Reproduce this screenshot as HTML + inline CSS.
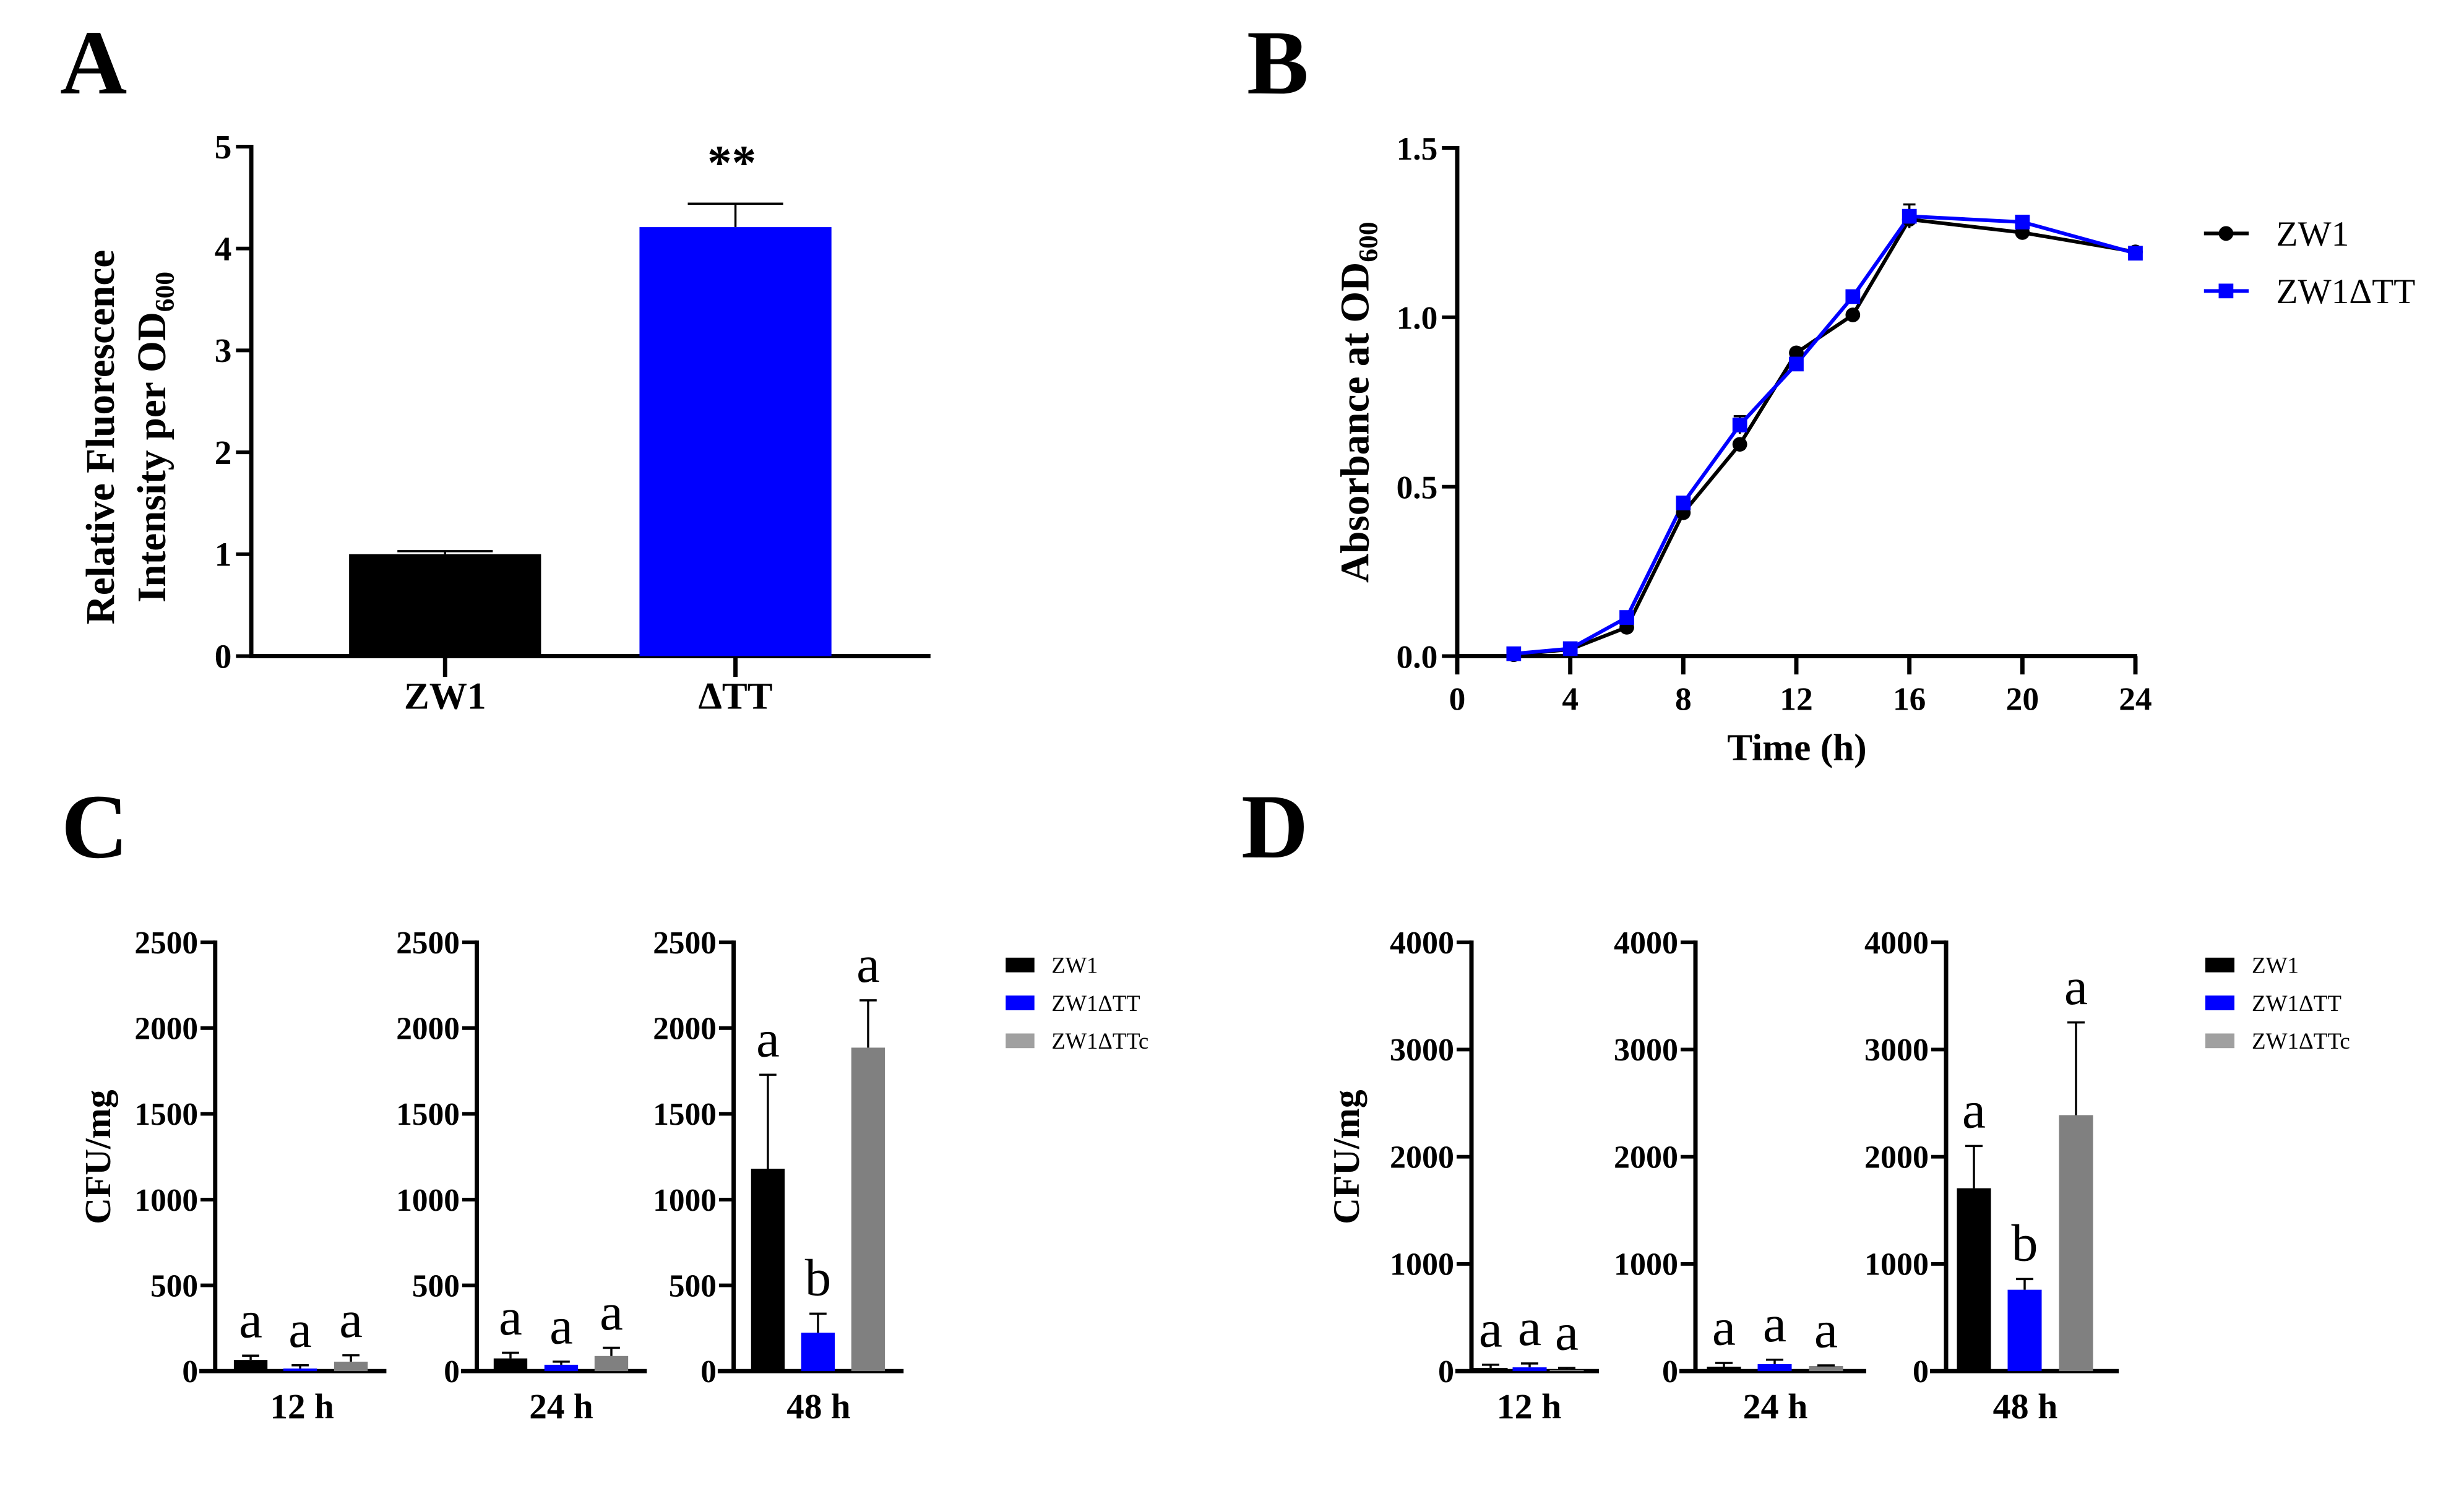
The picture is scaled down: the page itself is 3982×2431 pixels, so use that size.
<!DOCTYPE html>
<html><head><meta charset="utf-8"><style>
html,body{margin:0;padding:0;background:#fff;}
svg{display:block;font-family:"Liberation Serif",serif;}
</style></head><body>
<svg id="fig" xmlns="http://www.w3.org/2000/svg" width="3982" height="2431" viewBox="0 0 3982 2431">
<rect x="0" y="0" width="3982" height="2431" fill="#fff"/>
<g transform="matrix(1,0,0,0.9886,0,2.7)">
<text x="97" y="150" font-size="150" font-weight="bold">A</text>
<text x="2015" y="150" font-size="150" font-weight="bold">B</text>
<text x="99" y="1399" font-size="150" font-weight="bold">C</text>
<text x="2006" y="1399" font-size="150" font-weight="bold">D</text>
<g transform="scale(0.988,1)"><g id="gA"></g></g>
<g transform="matrix(0.98917,0,0,1,25.5,0)"><g id="gB"></g></g>
<g transform="scale(0.988,1)"><g id="gC"></g></g>
<g transform="translate(-16,0)"><g id="gD"></g></g>
</g>
</svg>
<script>
// Panel A data
const aCategories = ["ZW1", "ΔTT"];
const aValues = [1.0, 4.21];
const aErrors = [0.03, 0.23];
const aTicks = [0, 1, 2, 3, 4, 5];
// Panel B data
const bTimes = [2, 4, 6, 8, 10, 12, 14, 16, 20, 24];
const bZW1 = [0.004, 0.02, 0.085, 0.423, 0.625, 0.895, 1.007, 1.289, 1.25, 1.193];
const bZW1dTT = [0.007, 0.022, 0.114, 0.452, 0.682, 0.862, 1.061, 1.298, 1.281, 1.189];
const bZW1dTTerr = [0.005, 0.005, 0.01, 0.01, 0.026, 0.01, 0.01, 0.035, 0.01, 0.005];
const bXTicks = [0, 4, 8, 12, 16, 20, 24];
const bYTicks = ["0.0", "0.5", "1.0", "1.5"];
// Panel C data
const cTimes = ["12 h", "24 h", "48 h"];
const cZW1 = [65, 74, 1180];
const cZW1err = [25, 33, 548];
const cDTT = [15, 37, 224];
const cDTTerr = [19, 18, 111];
const cDTTc = [55, 88, 1886];
const cDTTcErr = [37, 48, 276];
const cLetters = [["a","a","a"],["a","a","a"],["a","b","a"]];
const cTicks = [0, 500, 1000, 1500, 2000, 2500];
// Panel D data
const dZW1 = [29, 41, 1706];
const dZW1err = [30, 35, 394];
const dDTT = [35, 65, 759];
const dDTTerr = [36, 41, 100];
const dDTTc = [12, 47, 2388];
const dDTTcErr = [17, 6, 865];
const dLetters = [["a","a","a"],["a","a","a"],["a","b","a"]];
const dTicks = [0, 1000, 2000, 3000, 4000];
const seriesNames = ["ZW1", "ZW1ΔTT", "ZW1ΔTTc"];

const NS = "http://www.w3.org/2000/svg";
function mk(parent, tag, attrs, text) {
  const e = document.createElementNS(NS, tag);
  for (const k in attrs) e.setAttribute(k, attrs[k]);
  if (text !== undefined) e.textContent = text;
  parent.appendChild(e);
  return e;
}
function line(p, x1, y1, x2, y2, w, c) {
  return mk(p, "line", {x1, y1, x2, y2, stroke: c || "#000", "stroke-width": w});
}

// ---------- Panel A ----------
(function () {
  const g = document.getElementById("gA");
  const x0 = 411, xEnd = 1522, y0 = 1070, yTop = 237;
  const yS = v => y0 - (v / 5) * (y0 - yTop);
  const centers = [728, 1203];
  const bw = 314;
  let e = line(g, x0, yTop - 3, x0, y0 + 3, 7);
  
  
  e = line(g, x0 - 3, y0, xEnd, y0, 7);
  
  
  aTicks.forEach(t => {
    line(g, x0 - 25, yS(t), x0, yS(t), 6);
    const tx = mk(g, "text", {x: x0 - 32, y: yS(t) + 19, "font-size": 56, "font-weight": "bold", "text-anchor": "end"}, String(t));
    
    
  });
  aCategories.forEach((c, i) => {
    const cx = centers[i];
    const col = i === 0 ? "#000" : "#0000ff";
    const top = yS(aValues[i]);
    const r = mk(g, "rect", {x: cx - bw / 2, y: top, width: bw, height: y0 - top, fill: col});
    
    
    const et = yS(aValues[i] + aErrors[i]);
    line(g, cx, top, cx, et, 3.5);
    line(g, cx - 78, et, cx + 78, et, 3.5);
    line(g, cx, y0, cx, y0 + 34, 7);
    const t = mk(g, "text", {x: cx, y: 1156, "font-size": 62, "font-weight": "bold", "text-anchor": "middle"}, c);
    
    
  });
  const st = mk(g, "text", {x: 1197, y: 290, "font-size": 80, "font-weight": "bold", "text-anchor": "middle"}, "**");
  
  
  const t1 = mk(g, "text", {x: 0, y: 0, "font-size": 66, "font-weight": "bold", "text-anchor": "middle", transform: "translate(186,712) rotate(-90)"}, "Relative Fluorescence");
  
  
  const t2 = mk(g, "text", {x: 0, y: 0, "font-size": 66, "font-weight": "bold", "text-anchor": "middle", transform: "translate(270,712) rotate(-90)"});
  
  
  mk(t2, "tspan", {}, "Intensity per OD");
  mk(t2, "tspan", {"font-size": 44, dy: 14}, "600");
})();

// ---------- Panel B ----------
(function () {
  const g = document.getElementById("gB");
  const x0 = 2355, x1 = 3463, y0 = 1070, yTop = 239;
  const xS = t => x0 + (t / 24) * (x1 - x0);
  const yS = v => y0 - (v / 1.5) * (y0 - yTop);
  let e = line(g, x0, yTop - 3, x0, y0 + 3, 7);
  
  
  e = line(g, x0 - 3, y0, x1 + 3, y0, 7);
  
  
  bYTicks.forEach(t => {
    const v = parseFloat(t);
    line(g, x0 - 25, yS(v), x0, yS(v), 6);
    const tx = mk(g, "text", {x: x0 - 32, y: yS(v) + 19, "font-size": 54, "font-weight": "bold", "text-anchor": "end"}, t);
    
    
  });
  bXTicks.forEach(t => {
    line(g, xS(t), y0, xS(t), y0 + 30, 7);
    const tx = mk(g, "text", {x: xS(t), y: 1158, "font-size": 54, "font-weight": "bold", "text-anchor": "middle"}, String(t));
    
    
  });
  const tt = mk(g, "text", {x: 2910, y: 1240, "font-size": 62, "font-weight": "bold", "text-anchor": "middle"}, "Time (h)");
  
  
  const yt = mk(g, "text", {x: 0, y: 0, "font-size": 66, "font-weight": "bold", "text-anchor": "middle", transform: "translate(2210,655) rotate(-90)"});
  
  
  mk(yt, "tspan", {}, "Absorbance at OD");
  mk(yt, "tspan", {"font-size": 44, dy: 14}, "600");
  bTimes.forEach((t, i) => {
    const v = bZW1dTT[i], er = bZW1dTTerr[i];
    line(g, xS(t), yS(v - er), xS(t), yS(v + er), 3.5);
    line(g, xS(t) - 10, yS(v + er), xS(t) + 10, yS(v + er), 3.5);
  });
  const p1 = mk(g, "polyline", {points: bTimes.map((t, i) => xS(t) + "," + yS(bZW1[i])).join(" "), fill: "none", stroke: "#000", "stroke-width": 6});
  
  
  const p2 = mk(g, "polyline", {points: bTimes.map((t, i) => xS(t) + "," + yS(bZW1dTT[i])).join(" "), fill: "none", stroke: "#0000ff", "stroke-width": 6});
  
  
  bTimes.forEach((t, i) => {
    const c = mk(g, "circle", {cx: xS(t), cy: yS(bZW1[i]), r: 12, fill: "#000"});
    
    
  });
  bTimes.forEach((t, i) => {
    const r = mk(g, "rect", {x: xS(t) - 12, y: yS(bZW1dTT[i]) - 12, width: 24, height: 24, fill: "#0000ff"});
    
    
  });
  line(g, 3575, 379, 3648, 379, 6);
  mk(g, "circle", {cx: 3611, cy: 379, r: 12, fill: "#000"});
  const l1 = mk(g, "text", {x: 3693, y: 399, "font-size": 58}, "ZW1");
  
  
  line(g, 3575, 473, 3648, 473, 6, "#0000ff");
  mk(g, "rect", {x: 3599, y: 461, width: 24, height: 24, fill: "#0000ff"});
  const l2 = mk(g, "text", {x: 3693, y: 493, "font-size": 58}, "ZW1ΔTT");
  
  
})();

// ---------- Panels C & D ----------
function cfuPanel(gid, prefix, axesX, axisEnds, groupsX, ymax, ticks, vals, errs, letters, labelX, titleX, legendX) {
  const g = document.getElementById(gid);
  const y0 = 2239, yTop = 1538;
  const yS = v => y0 - (v / ymax) * (y0 - yTop);
  const cols = ["#000", "#0000ff", "#808080"];
  const legCols = ["#000", "#0000ff", "#a0a0a0"];
  const bw = 55;
  cTimes.forEach((lab, k) => {
    const ax = axesX[k];
    let e = line(g, ax, yTop - 3, ax, y0 + 3, 7);
    
    
    e = line(g, ax - 26, y0, axisEnds[k], y0, 7);
    
    
    ticks.forEach(t => {
      line(g, ax - 24, yS(t), ax, yS(t), 6);
      const tx = mk(g, "text", {x: ax - 28, y: yS(t) + 18, "font-size": 52, "font-weight": "bold", "text-anchor": "end"}, String(t));
      
      
    });
    for (let s = 0; s < 3; s++) {
      const cx = groupsX[k][s];
      const v = vals[s][k], er = errs[s][k];
      const top = yS(v);
      const r = mk(g, "rect", {x: cx - bw / 2, y: top, width: bw, height: y0 - top, fill: cols[s]});
      
      
      const et = yS(v + er);
      line(g, cx, top, cx, et, 3.5);
      line(g, cx - 14, et, cx + 14, et, 3.5);
      const lt = mk(g, "text", {x: cx, y: et - 30, "font-size": 86, "text-anchor": "middle"}, letters[k][s]);
      
      
    }
    const tl = mk(g, "text", {x: labelX[k], y: 2316, "font-size": 58, "font-weight": "bold", "text-anchor": "middle"}, lab);
    
    
  });
  const yt = mk(g, "text", {x: 0, y: 0, "font-size": 60, "font-weight": "bold", "text-anchor": "middle", transform: "translate(" + titleX + ",1889) rotate(-90)"}, "CFU/mg");
  
  
  const rows = [1575, 1637, 1699];
  seriesNames.forEach((n, s) => {
    mk(g, "rect", {x: legendX, y: rows[s] - 12, width: 47, height: 24, fill: legCols[s]});
    const t = mk(g, "text", {x: legendX + 75, y: rows[s] + 13, "font-size": 37}, n);
    
    
  });
}
cfuPanel("gC", "c", [352, 780, 1200], [632, 1058, 1478],
  [[410, 491, 574], [835, 918, 1000], [1256, 1338, 1420]],
  2500, cTicks, [cZW1, cDTT, cDTTc], [cZW1err, cDTTerr, cDTTcErr], cLetters,
  [494, 918, 1339], 180, 1645);
cfuPanel("gD", "d", [2394, 2756, 3161], [2600, 3032, 3440],
  [[2425, 2488, 2548], [2802, 2884, 2967], [3206, 3288, 3371]],
  4000, dTicks, [dZW1, dDTT, dDTTc], [dZW1err, dDTTerr, dDTTcErr], dLetters,
  [2487, 2885, 3289], 2212, 3580);
</script>
</body></html>
